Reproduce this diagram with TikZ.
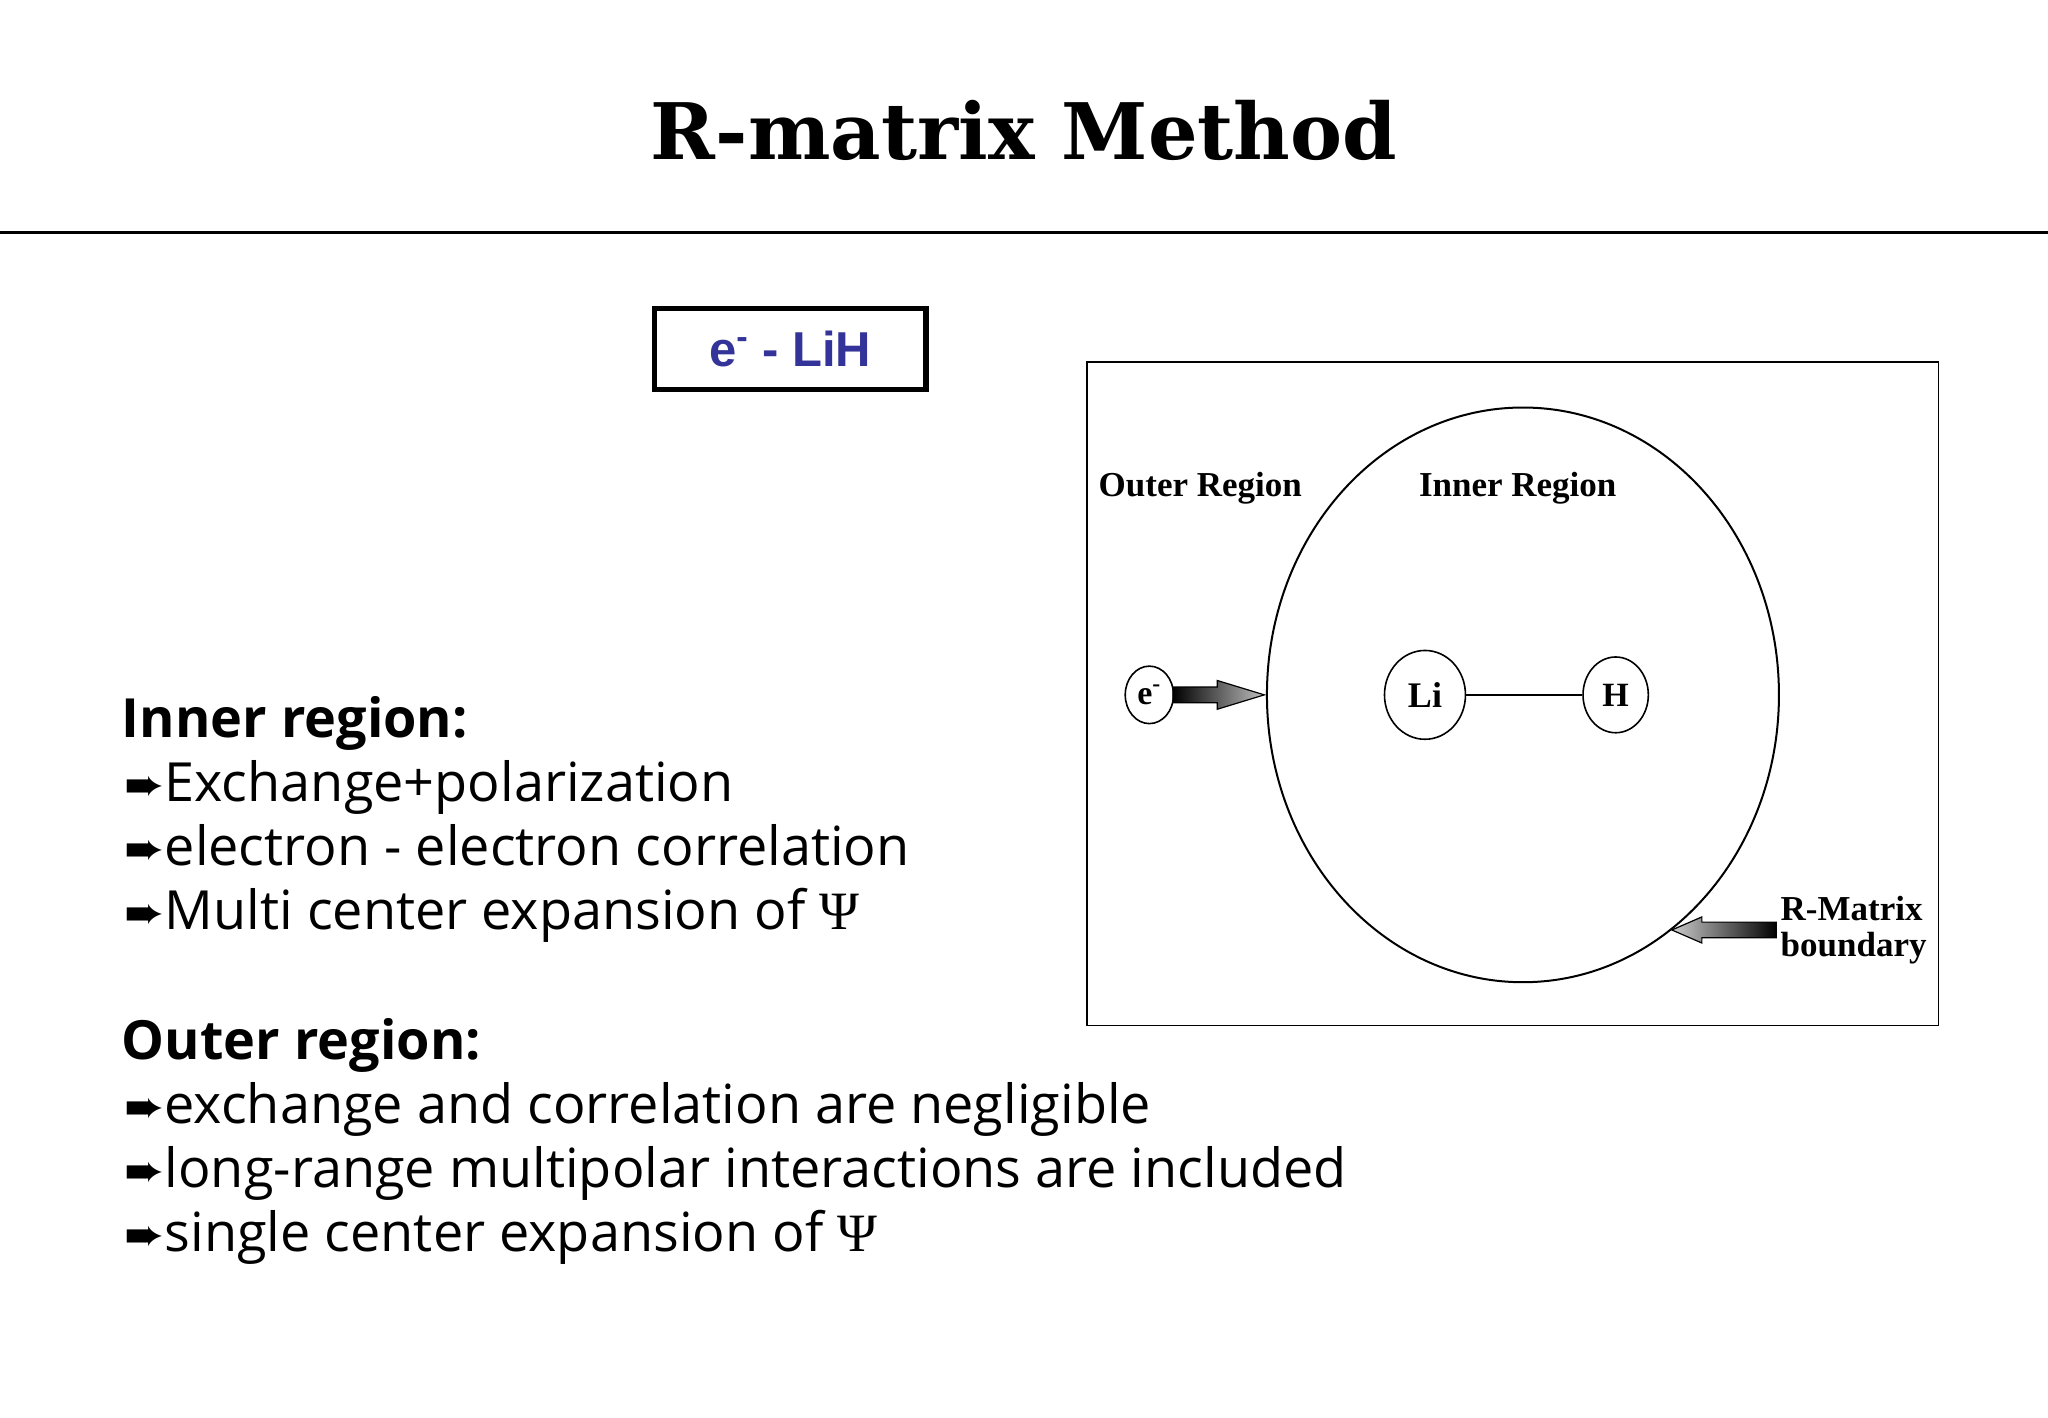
\documentclass[tikz,border=0pt]{standalone}
\usepackage{fontspec}
\usetikzlibrary{shapes.geometric}
\setmainfont{Open Sans}
\newfontfamily\titlefont{DejaVu Serif}
\newfontfamily\dserif{Liberation Serif}
\newfontfamily\arsym{DejaVu Sans}
\newfontfamily\lsans{Liberation Sans}
\definecolor{navy}{HTML}{333399}
\newdimen\uu \uu=0.653pt
\newcommand{\blt}{{\arsym\fontsize{24}{27}\selectfont ➨}}
\begin{document}
\begin{tikzpicture}[x=0.653pt,y=-0.653pt,
  body/.style={anchor=base west,inner sep=0pt,font=\fontsize{27}{31}\selectfont},
  dlab/.style={font=\dserif\bfseries\fontsize{17.5}{20}\selectfont,inner sep=0pt},
  atom/.style={draw,line width=0.8pt,ellipse,inner sep=0pt}]
\useasboundingbox (0,0) rectangle (1568,1085.6);
\node[font=\titlefont\bfseries\fontsize{39}{46}\selectfont] (title) at (784,100) {R-matrix Method};
\coordinate (rl) at (0,178); \coordinate (rr) at (1568,178);
\draw[line width=1.6pt] (rl) -- (rr);
\node[draw,line width=2.6pt,minimum width=208\uu,minimum height=62\uu,inner sep=0pt,text=navy,font=\lsans\bfseries\fontsize{24.5}{28}\selectfont] (sys) at (605,267) {e\textsuperscript{-} - LiH};
% diagram
\node[draw,line width=0.8pt,minimum width=652\uu,minimum height=508\uu,inner sep=0pt] (frame) at (1158,531) {};
\node[draw,line width=1pt,ellipse,minimum width=392\uu,minimum height=440\uu,inner sep=0pt] (inner) at (1166,532) {};
\node[dlab] (outl) at (919,374) {Outer Region};
\node[dlab] (innl) at (1162,374) {Inner Region};
\node[atom,minimum width=62\uu,minimum height=68\uu] (li) at (1091,532) {\dserif\bfseries\fontsize{18}{20}\selectfont Li};
\node[atom,minimum width=50\uu,minimum height=58\uu] (h) at (1237,532) {\dserif\bfseries\fontsize{17}{20}\selectfont H};
\draw[line width=0.7pt] (li) -- (h);
\node[atom,minimum width=37\uu,minimum height=44\uu] (el) at (880,532) {\dserif\bfseries\fontsize{17}{20}\selectfont e\textsuperscript{-}};
\shade[left color=black,right color=gray!50,draw=black,line width=0.6pt]
  (898,526) -- (932,526) -- (932,521) -- (968,532) -- (932,543) -- (932,538) -- (898,538) -- cycle;
\shade[left color=gray!40,right color=black,draw=black,line width=0.6pt]
  (1280,712) -- (1303,702) -- (1303,706) -- (1360,706) -- (1360,718) -- (1303,718) -- (1303,722) -- cycle;
\node[dlab,anchor=west,align=left] (rmb) at (1363,712) {R-Matrix\\[-2pt]boundary};
% text
\node[body,font=\bfseries\fontsize{27}{31}\selectfont] (ih) at (93,565) {Inner region:};
\node[body] (i1) at (95,614) {\blt Exchange+polarization};
\node[body] (i2) at (95,663) {\blt electron - electron correlation};
\node[body] (i3) at (95,712) {\blt Multi center expansion of {\dserif Ψ}};
\node[body,font=\bfseries\fontsize{27}{31}\selectfont] (oh) at (93,811) {Outer region:};
\node[body] (o1) at (95,860) {\blt exchange and correlation are negligible};
\node[body] (o2) at (95,909) {\blt long-range multipolar interactions are included};
\node[body] (o3) at (95,958) {\blt single center expansion of {\dserif Ψ}};
\end{tikzpicture}
\end{document}
